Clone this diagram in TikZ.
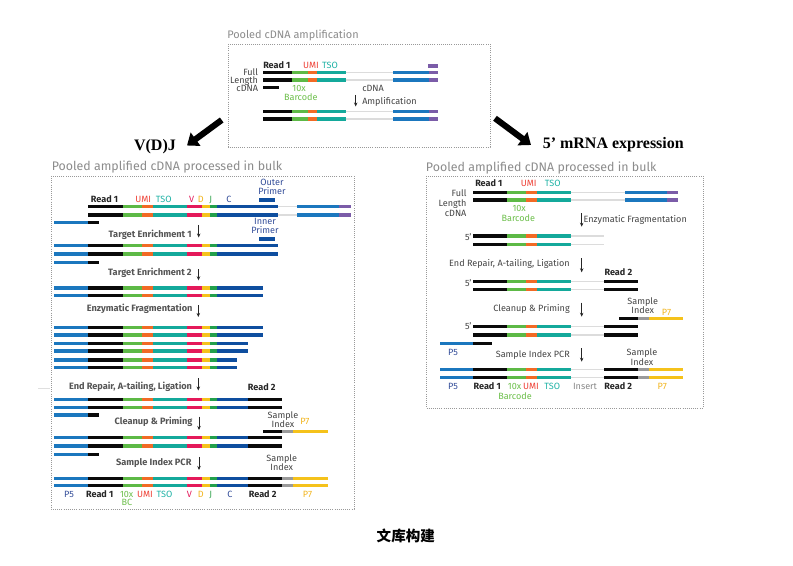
\documentclass[tikz,border=0pt]{standalone}
\usepackage{fontspec}
\setmainfont{Fira Sans}
\newfontfamily\serifb{Liberation Serif}
\newfontfamily\cjk{Noto Sans CJK SC}
\usetikzlibrary{arrows.meta}
\definecolor{cblk}{HTML}{0A0A0A}
\definecolor{cgrn}{HTML}{5DB946}
\definecolor{corg}{HTML}{F26A25}
\definecolor{cteal}{HTML}{14A99B}
\definecolor{cred}{HTML}{E4195A}
\definecolor{cyel}{HTML}{F5C21B}
\definecolor{cgrn2}{HTML}{22A04B}
\definecolor{cdblue}{HTML}{0E4E9F}
\definecolor{cblue}{HTML}{1B77BE}
\definecolor{cpur}{HTML}{7B5CA8}
\definecolor{cline}{HTML}{DCDCDC}
\definecolor{cidx}{HTML}{9A9A9A}
\definecolor{tgray}{HTML}{444444}
\definecolor{tgrayL}{HTML}{555555}
\definecolor{ttitle}{HTML}{8C8C8C}
\definecolor{tumi}{HTML}{EF4136}
\definecolor{ttso}{HTML}{1FB3A6}
\definecolor{tbc}{HTML}{6CBF4A}
\definecolor{tnavy}{HTML}{344E9A}
\definecolor{tyel}{HTML}{F2B51E}
\definecolor{tj}{HTML}{3DA857}
\definecolor{tins}{HTML}{8A8A8A}
\newcommand\dnseg[4]{\fill[#4] (#1,#3-1.6) rectangle (#2,#3+1.6);}
\newcommand\dngl[3]{\draw[gline] (#1,#3) -- (#2,#3);}
% left box strands
\newcommand\dnLcore[1]{\dnseg{88.3}{122.7}{#1}{cblk}\dnseg{122.7}{141.7}{#1}{cgrn}\dnseg{141.7}{152.7}{#1}{corg}\dnseg{152.7}{187.3}{#1}{cteal}\dnseg{187.3}{202.3}{#1}{cred}\dnseg{202.3}{210}{#1}{cyel}\dnseg{210}{217.3}{#1}{cgrn2}}
\newcommand\dnLA[1]{\dnLcore{#1}\dnseg{217.3}{278.3}{#1}{cdblue}\dngl{278.3}{297.3}{#1}\dnseg{297.3}{339.3}{#1}{cblue}\dnseg{339.3}{350.7}{#1}{cpur}}
\newcommand\dnLB[2]{\dnseg{54.3}{88.3}{#1}{cblue}\dnLcore{#1}\dnseg{217.3}{#2}{#1}{cdblue}}
\newcommand\dnLD[1]{\dnLB{#1}{248.3}\dnseg{248.3}{282.3}{#1}{cblk}}
\newcommand\dnLE[1]{\dnLD{#1}\dnseg{282.3}{293.3}{#1}{cidx}\dnseg{293.3}{327.7}{#1}{cyel}}
\newcommand\dnLsmall[1]{\dnseg{54.3}{88.3}{#1}{cblue}\dnseg{88.3}{99.3}{#1}{cblk}}
% top box strands
\newcommand\dnTA[1]{\dnseg{263.3}{291.7}{#1}{cblk}\dnseg{291.7}{307.7}{#1}{cgrn}\dnseg{307.7}{316.7}{#1}{corg}\dnseg{316.7}{345.7}{#1}{cteal}\dngl{345.7}{393.3}{#1}\dnseg{393.3}{429}{#1}{cblue}\dnseg{429}{437.7}{#1}{cpur}}
% right box strands
\newcommand\dnRcore[1]{\dnseg{473.3}{507.3}{#1}{cblk}\dnseg{507.3}{525.7}{#1}{cgrn}\dnseg{525.7}{536.7}{#1}{corg}\dnseg{536.7}{570.7}{#1}{cteal}}
\newcommand\dnRA[1]{\dnRcore{#1}\dngl{570.7}{625}{#1}\dnseg{625}{666.7}{#1}{cblue}\dnseg{666.7}{678.3}{#1}{cpur}}
\newcommand\dnRB[1]{\dnRcore{#1}\dngl{570.7}{604}{#1}}
\newcommand\dnRC[1]{\dnRcore{#1}\dngl{570.7}{604.3}{#1}\dnseg{604.3}{637.7}{#1}{cblk}}
\newcommand\dnRE[1]{\dnseg{440}{473.3}{#1}{cblue}\dnRC{#1}\dnseg{637.7}{648.7}{#1}{cidx}\dnseg{648.7}{682.7}{#1}{cyel}}
\tikzset{
  gline/.style={cline, line width=1.1pt},
  box/.style={draw=black!40, line width=0.6pt, dash pattern=on 0.7pt off 0.9pt},
  boxtitle/.style={inner sep=0pt, anchor=mid west, text=ttitle, font=\fontsize{9.3}{10}\selectfont},
  lab/.style={inner sep=0pt, anchor=mid, text=tgray, font=\fontsize{6.8}{7}\selectfont},
  rd/.style={lab, text=black!85, font=\fontsize{6.8}{7}\selectfont\bfseries},
  stepL/.style={lab, anchor=mid east, text=tgrayL, font=\fontsize{6.9}{7}\selectfont\bfseries},
  stepR/.style={lab, anchor=mid east},
  steparrow/.style={draw=black!85, line width=0.6pt, -{Stealth[length=3pt,width=2.6pt]}},
  bigarrow/.style={draw=black, line width=4.6pt, -{Triangle[length=8pt,width=12pt]}},
  biglab/.style={inner sep=0pt, font=\serifb\fontsize{12}{14}\selectfont\bfseries},
}
\begin{document}
\begin{tikzpicture}[x=0.75pt,y=-0.75pt]
\useasboundingbox (0,0) rectangle (793,566);
\fill[white] (0,0) rectangle (793,566);

% ================= TOP BOX =================
\draw[box] (228,44) rectangle (490,147);
\node[boxtitle, font=\fontsize{8.2}{10}\selectfont] (ttop) at (227,35) {Pooled cDNA amplification};
\dnTA{72.7}\dnTA{80}\dnTA{111.7}\dnTA{119}
\dnseg{428.3}{437.7}{66}{cpur}
\dnseg{263.3}{279.3}{87.3}{cblk}
\node[rd, anchor=mid west] (tr1) at (263,65) {Read 1};
\node[lab, text=tumi] (tumi) at (311,65) {UMI};
\node[lab, text=ttso] (ttso) at (330,65) {TSO};
\node[lab, anchor=mid east] (tfull) at (258.3,72.2) {Full};
\node[lab, anchor=mid east] (tlen) at (258.3,80) {Length};
\node[lab, anchor=mid east] (tcd) at (258.3,88) {cDNA};
\node[lab, text=tbc] (t10x) at (299,87.7) {10x};
\node[lab, text=tbc] (tbcl) at (300.8,96.7) {Barcode};
\node[lab, anchor=mid west] (tamp1) at (362,88.3) {cDNA};
\node[lab, anchor=mid west] (tamp2) at (362,101) {Amplification};
\coordinate (ta1) at (355.7,95); \coordinate (ta2) at (355.7,106.5);
\draw[steparrow] (ta1) -- (ta2);

% ================= BIG ARROWS =================
\node[biglab] (vdj) at (155,146.7) {V(D)J};
\node[biglab] (mrna) at (613.3,144.3) {5’ mRNA expression};
\coordinate (va1) at (221.7,120); \coordinate (va2) at (187,145.5);
\coordinate (ma1) at (495,118.3); \coordinate (ma2) at (531,145);
\draw[bigarrow] (va1) -- (va2);
\draw[bigarrow] (ma1) -- (ma2);

% ================= LEFT BOX =================
\draw[box] (51,176) rectangle (354,509);
\node[boxtitle] (tleft) at (51.5,167) {Pooled amplified cDNA processed in bulk};
\draw[cline!80!black!40, line width=0.7pt] (38.3,388.3) -- (50,388.3);
% row 1
\node[rd, anchor=mid west] (lr1) at (90.7,199) {Read 1};
\node[lab, text=tumi] (lumi) at (143.3,199) {UMI};
\node[lab, text=ttso] (ltso) at (163.8,199) {TSO};
\node[lab, text=cred] (lv) at (191.7,199) {V};
\node[lab, text=tyel] (ld) at (200.7,199) {D};
\node[lab, text=tj] (lj) at (210.7,199) {J};
\node[lab, text=tnavy] (lc) at (229,199) {C};
\node[lab, text=tnavy] (lout1) at (272,182.3) {Outer};
\node[lab, text=tnavy] (lout2) at (272,190.6) {Primer};
\dnseg{259.3}{275}{200}{cdblue}
\dnLA{206.7}\dnLA{215}
\dnLsmall{222.7}
\node[lab, text=tnavy] (lin1) at (265,221) {Inner};
\node[lab, text=tnavy] (lin2) at (265,229.5) {Primer};
\dnseg{259.3}{275}{239}{cdblue}
\node[stepL] (lte1) at (192,234.3) {Target Enrichment 1};
\coordinate (la1) at (198.7,225); \coordinate (la2) at (198.7,237.5);
\draw[steparrow] (la1) -- (la2);
\dnLB{245.7}{278.3}\dnLB{254}{278.3}
\dnLsmall{262.5}
\node[stepL] (lte2) at (192,272) {Target Enrichment 2};
\coordinate (lb1) at (198.5,269.3); \coordinate (lb2) at (198.5,280.3);
\draw[steparrow] (lb1) -- (lb2);
\dnLB{288}{263.3}\dnLB{295.7}{263.3}
\node[stepL] (lef) at (192.7,307.7) {Enzymatic Fragmentation};
\coordinate (lc1) at (198.3,305.3); \coordinate (lc2) at (198.3,317);
\draw[steparrow] (lc1) -- (lc2);
\dnLB{327.5}{263.3}\dnLB{335}{263.3}
\dnLB{343.3}{247.7}\dnLB{351}{247.7}
\dnLB{360}{236.7}\dnLB{367.7}{236.7}
\node[stepL] (ler) at (192.3,386) {End Repair, A-tailing, Ligation};
\coordinate (ld1) at (198.3,378.5); \coordinate (ld2) at (198.3,390.5);
\draw[steparrow] (ld1) -- (ld2);
\node[rd, anchor=mid west] (lr2) at (247.7,387) {Read 2};
\dnLD{399.7}\dnLD{407.3}
\dnLsmall{415}
\node[stepL] (lcp) at (192.7,421) {Cleanup \& Priming};
\coordinate (le1) at (199,416.7); \coordinate (le2) at (199,430);
\draw[steparrow] (le1) -- (le2);
\node[lab] (lsi1) at (283,415) {Sample};
\node[lab] (lsi2) at (283,423.6) {Index};
\node[lab, anchor=mid west, text=tyel] (lp7a) at (300,421) {P7};
\dnseg{262.7}{282.3}{431.7}{cblk}\dnseg{282.3}{293.3}{431.7}{cidx}\dnseg{293.3}{327.7}{431.7}{cyel}
\dnLD{437.7}\dnLD{446}
\dnLsmall{454.3}
\node[stepL] (lsip) at (191.7,462.3) {Sample Index PCR};
\coordinate (lf1) at (199,457); \coordinate (lf2) at (199,470);
\draw[steparrow] (lf1) -- (lf2);
\node[lab] (lsi3) at (281.7,458) {Sample};
\node[lab] (lsi4) at (281.7,466.8) {Index};
\dnLE{478.3}\dnLE{485.7}
\node[lab, text=tnavy] (lbp5) at (69,494) {P5};
\node[rd] (lbr1) at (99.7,494) {Read 1};
\node[lab, text=tbc] (lb10) at (126.7,494) {10x};
\node[lab, text=tbc] (lbbc) at (127,502) {BC};
\node[lab, text=tumi] (lbumi) at (145,494) {UMI};
\node[lab, text=ttso] (lbtso) at (164.5,494) {TSO};
\node[lab, text=cred] (lbv) at (189.3,494) {V};
\node[lab, text=tyel] (lbd) at (200.7,494) {D};
\node[lab, text=tj] (lbj) at (210.7,494) {J};
\node[lab, text=tnavy] (lbc) at (230,494) {C};
\node[rd] (lbr2) at (262.7,494) {Read 2};
\node[lab, text=tyel] (lbp7) at (307.5,494) {P7};

% ================= RIGHT BOX =================
\draw[box] (426,176) rectangle (703,408);
\node[boxtitle] (tright) at (425.7,168.3) {Pooled amplified cDNA processed in bulk};
\node[rd, anchor=mid west] (rr1) at (475,183.3) {Read 1};
\node[lab, text=tumi] (rumi) at (528.8,183.3) {UMI};
\node[lab, text=ttso] (rtso) at (552.7,183.3) {TSO};
\node[lab, anchor=mid east] (rfull) at (466.7,192.7) {Full};
\node[lab, anchor=mid east] (rlen) at (466.7,203.3) {Length};
\node[lab, anchor=mid east] (rcd) at (466.7,213.3) {cDNA};
\dnRA{192.7}\dnRA{200}
\node[lab, text=tbc] (r10x) at (519.2,208.3) {10x};
\node[lab, text=tbc] (rbc) at (518.3,218.3) {Barcode};
\coordinate (ra1) at (581.7,213.3); \coordinate (ra2) at (581.7,226.7);
\draw[steparrow] (ra1) -- (ra2);
\node[lab, anchor=mid west] (ref) at (583.3,219) {Enzymatic Fragmentation};
\node[lab, anchor=mid east] (r5a) at (471.7,237.3) {5'};
\dnRB{236}\dnRB{244.3}
\node[stepR] (rer) at (570,263.3) {End Repair, A-tailing, Ligation};
\coordinate (rb1) at (581.7,258.3); \coordinate (rb2) at (581.7,272.3);
\draw[steparrow] (rb1) -- (rb2);
\node[rd, anchor=mid west] (rr2) at (604.3,271.7) {Read 2};
\node[lab, anchor=mid east] (r5b) at (471.7,283) {5'};
\dnRC{281.7}\dnRC{289.3}
\node[stepR] (rcp) at (570,307.7) {Cleanup \& Priming};
\coordinate (rc1) at (581.7,302.7); \coordinate (rc2) at (581.7,316.7);
\draw[steparrow] (rc1) -- (rc2);
\node[lab] (rsi1) at (642.7,300.7) {Sample};
\node[lab] (rsi2) at (642.7,310) {Index};
\node[lab, anchor=mid west, text=tyel] (rp7a) at (661.7,311.7) {P7};
\dnseg{619.3}{637.7}{318.3}{cblk}\dnseg{637.7}{648.7}{318.3}{cidx}\dnseg{648.7}{682.7}{318.3}{cyel}
\node[lab, anchor=mid east] (r5c) at (471.7,325.7) {5'};
\dnRC{326.7}\dnRC{335}
\dnseg{440}{473.3}{343.3}{cblue}\dnseg{473.3}{491.7}{343.3}{cblk}
\node[lab, text=tnavy] (rp5a) at (453,351.7) {P5};
\node[stepR] (rsip) at (570,354.3) {Sample Index PCR};
\coordinate (rd1) at (581.7,348.3); \coordinate (rd2) at (581.7,361.7);
\draw[steparrow] (rd1) -- (rd2);
\node[lab] (rsi3) at (642,351.7) {Sample};
\node[lab] (rsi4) at (642,361.7) {Index};
\dnRE{369.3}\dnRE{377.7}
\node[lab, text=tnavy] (rbp5) at (453,386) {P5};
\node[rd] (rbr1) at (487.2,386) {Read 1};
\node[lab, text=tbc] (rb10) at (514.5,386) {10x};
\node[lab, text=tbc] (rbbc) at (515,395.7) {Barcode};
\node[lab, text=tumi] (rbumi) at (531,386) {UMI};
\node[lab, text=ttso] (rbtso) at (552.2,386) {TSO};
\node[lab, text=tins] (rbins) at (585,386) {Insert};
\node[rd] (rbr2) at (618.3,386) {Read 2};
\node[lab, text=tyel] (rbp7) at (662.3,386) {P7};

% ================= CAPTION =================
\node[inner sep=0pt, font=\cjk\fontsize{10.9}{12}\selectfont\bfseries] (cap) at (405.8,536) {文库构建};
\end{tikzpicture}
\end{document}
